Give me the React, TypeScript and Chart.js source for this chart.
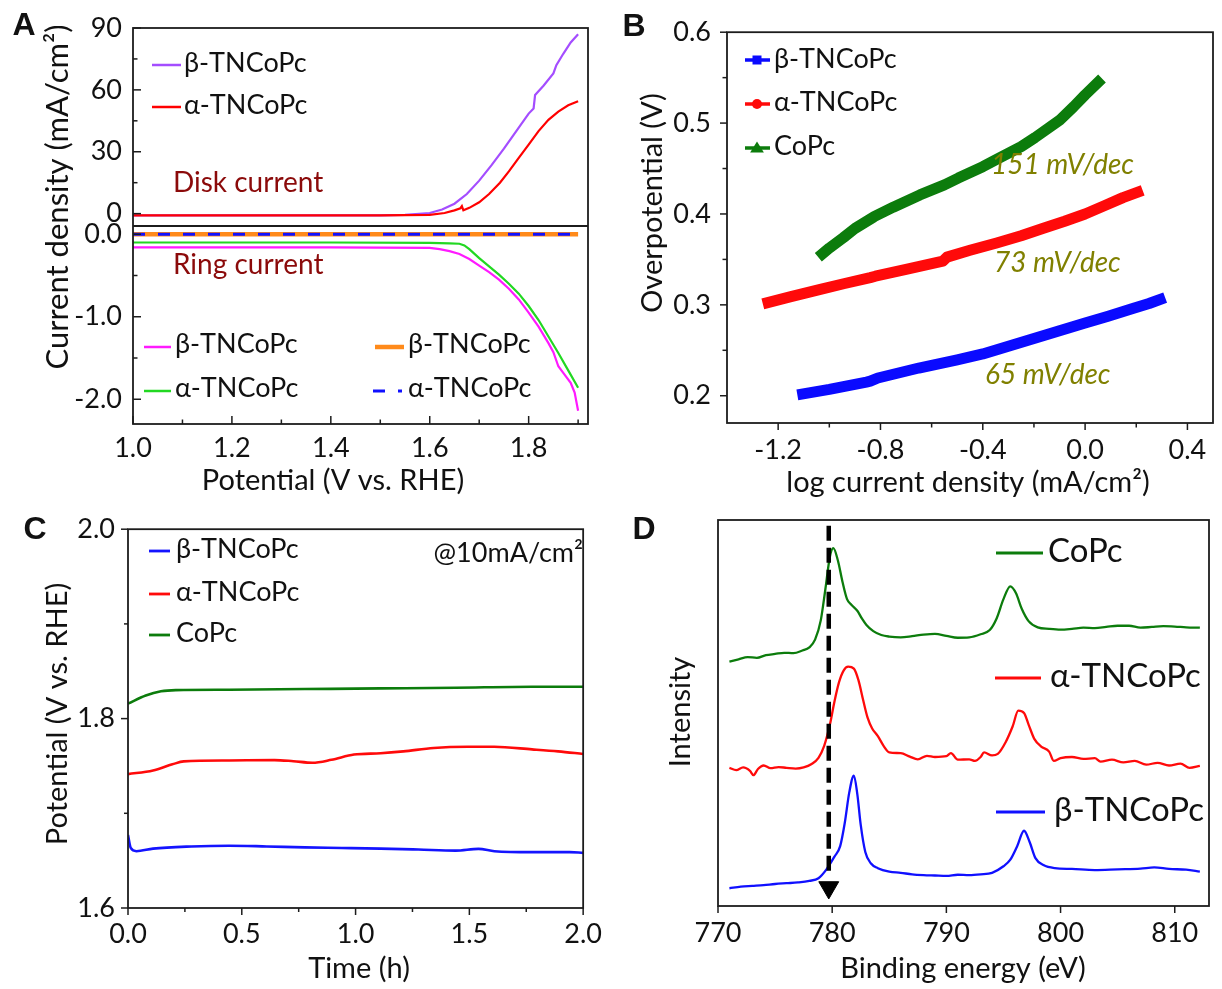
import React, { useEffect, useRef } from 'react';
import { Chart, registerables } from 'chart.js';

Chart.register(...registerables);

const FONT = 'Lato, "Open Sans", "DejaVu Sans", sans-serif';
const LETTER_FONT = '"Liberation Sans", Arial, sans-serif';

// ---------------- Panel A : RRDE (disk / ring currents) ----------------
const aDiskPotBeta = [1.0, 1.2, 1.4, 1.5, 1.55, 1.6, 1.625, 1.65, 1.675, 1.7, 1.725, 1.75, 1.775, 1.8, 1.81, 1.813, 1.83, 1.85, 1.856, 1.87, 1.885, 1.9];
const aDiskCurBeta = [-0.8, -0.8, -0.8, -0.8, -0.6, 0.3, 2.0, 4.8, 9.5, 16.0, 23.5, 31.5, 40.0, 48.5, 51.0, 57.5, 62.0, 68.0, 72.0, 77.5, 83.0, 87.0];
const aDiskPotAlpha = [1.0, 1.2, 1.4, 1.5, 1.6, 1.63, 1.65, 1.662, 1.665, 1.668, 1.68, 1.7, 1.72, 1.742, 1.76, 1.78, 1.8, 1.82, 1.84, 1.86, 1.88, 1.9];
const aDiskCurAlpha = [-0.8, -0.8, -0.8, -0.8, -0.6, 0.3, 1.6, 2.6, 3.6, 1.6, 2.8, 5.5, 9.5, 15.0, 20.5, 27.0, 33.5, 40.0, 45.5, 49.5, 52.5, 54.5];
const aRingPotBeta = [1.0, 1.2, 1.4, 1.6, 1.62, 1.64, 1.66, 1.68, 1.7, 1.72, 1.74, 1.76, 1.78, 1.8, 1.82, 1.84, 1.85, 1.86, 1.87, 1.885, 1.893, 1.9];
const aRingCurBeta = [-0.16, -0.16, -0.16, -0.165, -0.18, -0.205, -0.24, -0.3, -0.38, -0.46, -0.55, -0.66, -0.79, -0.95, -1.12, -1.32, -1.43, -1.6, -1.68, -1.8, -1.92, -2.14];
const aRingPotAlpha = [1.0, 1.2, 1.4, 1.6, 1.64, 1.66, 1.67, 1.68, 1.7, 1.72, 1.74, 1.76, 1.78, 1.8, 1.82, 1.84, 1.86, 1.88, 1.9];
const aRingCurAlpha = [-0.1, -0.1, -0.1, -0.105, -0.11, -0.115, -0.135, -0.18, -0.29, -0.39, -0.49, -0.6, -0.72, -0.87, -1.04, -1.24, -1.44, -1.65, -1.86];
const aRingPotRef = [1.0, 1.9];
const aRingCurBetaRef = [0.0, 0.0];
const aRingCurAlphaRef = [0.0, 0.0];
const aPotTicks = [1.0, 1.2, 1.4, 1.6, 1.8];
const aPotMinor = [1.1, 1.3, 1.5, 1.7, 1.9];
const aDiskTicks = [0, 30, 60, 90];
const aDiskMinor = [15, 45, 75];
const aRingTicks = [-2, -1, 0];
const aRingMinor = [-1.5, -0.5];

// ---------------- Panel B : Tafel ----------------
const bLogBeta = [-1.125, -1.0, -0.855, -0.84, -0.81, -0.65, -0.5, -0.4, -0.3, -0.2, -0.1, 0.0, 0.09, 0.18, 0.25, 0.313];
const bEtaBeta = [0.201, 0.207, 0.215, 0.216, 0.2195, 0.2305, 0.2395, 0.246, 0.2545, 0.263, 0.2715, 0.280, 0.2875, 0.2955, 0.3015, 0.308];
const bLogAlpha = [-1.26, -1.15, -1.035, -0.94, -0.84, -0.82, -0.7, -0.556, -0.54, -0.45, -0.346, -0.25, -0.166, -0.08, 0.0, 0.075, 0.148, 0.225];
const bEtaAlpha = [0.301, 0.309, 0.317, 0.3235, 0.3300, 0.3315, 0.339, 0.348, 0.3525, 0.3600, 0.368, 0.376, 0.384, 0.392, 0.400, 0.409, 0.418, 0.426];
const bLogCoPc = [-1.043, -1.0, -0.945, -0.9, -0.825, -0.75, -0.646, -0.55, -0.496, -0.4, -0.346, -0.25, -0.196, -0.1, -0.045, 0.0, 0.066];
const bEtaCoPc = [0.3525, 0.3625, 0.3740, 0.3840, 0.3970, 0.4075, 0.4210, 0.4320, 0.4395, 0.4520, 0.4600, 0.4740, 0.4840, 0.5030, 0.5180, 0.5310, 0.5490];
const bLogTicks = [-1.2, -0.8, -0.4, 0.0, 0.4];
const bLogMinor = [-1.0, -0.6, -0.2, 0.2];
const bEtaTicks = [0.2, 0.3, 0.4, 0.5, 0.6];
const bEtaMinor = [0.25, 0.35, 0.45, 0.55];

// ---------------- Panel C : chronopotentiometry ----------------
const cTimeBeta = [0, 0.012, 0.037, 0.11, 0.278, 0.444, 0.61, 0.777, 0.94, 1.11, 1.276, 1.44, 1.54, 1.61, 1.775, 1.94, 2.0];
const cPotBeta = [1.677, 1.6634, 1.660, 1.6627, 1.665, 1.6658, 1.665, 1.664, 1.6634, 1.6627, 1.6617, 1.6606, 1.6624, 1.660, 1.659, 1.659, 1.6582];
const cTimeAlpha = [0, 0.11, 0.195, 0.245, 0.444, 0.644, 0.727, 0.81, 0.894, 0.993, 1.11, 1.21, 1.343, 1.493, 1.609, 1.775, 1.89, 2.0];
const cPotAlpha = [1.7414, 1.7452, 1.7517, 1.7548, 1.7558, 1.7562, 1.7550, 1.7534, 1.7565, 1.762, 1.7634, 1.7654, 1.769, 1.7702, 1.7702, 1.7675, 1.7654, 1.7627];
const cTimeCoPc = [0, 0.078, 0.145, 0.21, 0.444, 0.777, 1.11, 1.44, 1.775, 2.0];
const cPotCoPc = [1.8158, 1.8243, 1.8288, 1.8301, 1.8305, 1.8312, 1.8319, 1.8326, 1.8336, 1.8336];
const cTimeTicks = [0, 0.5, 1.0, 1.5, 2.0];
const cTimeMinor = [0.25, 0.75, 1.25, 1.75];
const cPotTicks = [1.6, 1.8, 2.0];
const cPotMinor = [1.7, 1.9];

// ---------------- Panel D : Co 2p XPS ----------------
const dEnergyCoPc = [771.0, 771.8, 772.6, 773.4, 774.2, 775.0, 775.8, 776.6, 777.4, 778.0, 778.5, 779.0, 779.4, 779.8, 780.1, 780.5, 780.9, 781.3, 781.7, 782.2, 782.6, 783.0, 783.6, 784.3, 785.0, 786.0, 787.0, 788.0, 789.0, 790.0, 791.0, 792.0, 793.0, 793.8, 794.4, 795.0, 795.6, 796.1, 796.6, 797.2, 798.0, 799.0, 800.0, 801.0, 802.0, 803.0, 804.0, 805.0, 806.0, 807.0, 808.0, 809.0, 810.0, 811.0, 812.2];
const dIntCoPc = [63.3, 63.9, 64.5, 64.3, 65.0, 65.3, 65.6, 65.5, 66.2, 67.0, 69.0, 74.0, 82.0, 90.5, 92.7, 89.5, 84.0, 79.5, 78.0, 76.5, 74.5, 72.8, 71.2, 70.2, 69.8, 69.6, 69.9, 70.3, 70.5, 70.0, 69.5, 69.6, 70.4, 71.5, 74.5, 79.5, 82.8, 81.0, 77.0, 73.8, 72.2, 71.8, 71.6, 71.8, 72.1, 72.0, 72.3, 72.6, 72.6, 72.1, 72.3, 72.5, 72.4, 72.2, 72.1];
const dEnergyAlpha = [771.0, 771.6, 772.2, 772.8, 773.1, 773.5, 774.0, 774.6, 775.3, 776.0, 776.8, 777.5, 778.2, 778.8, 779.3, 779.8, 780.2, 780.6, 781.0, 781.4, 781.9, 782.3, 782.7, 783.1, 783.5, 784.0, 784.5, 785.0, 786.0, 786.8, 787.5, 788.3, 789.0, 790.0, 790.4, 791.0, 792.0, 792.5, 793.0, 793.3, 794.0, 794.5, 795.2, 795.8, 796.3, 796.8, 797.2, 797.7, 798.3, 799.0, 799.4, 800.0, 801.0, 802.0, 803.0, 803.5, 804.5, 805.5, 806.5, 807.5, 808.5, 809.5, 810.5, 811.3, 812.2];
const dIntAlpha = [35.8, 35.2, 35.9, 35.0, 33.9, 35.5, 36.4, 35.7, 36.0, 35.8, 35.6, 35.9, 36.8, 38.4, 41.5, 47.0, 53.0, 58.0, 61.0, 62.0, 61.5, 58.5, 53.5, 48.8, 46.0, 44.0, 41.5, 39.8, 39.6, 38.7, 38.0, 38.9, 38.6, 38.8, 39.6, 37.9, 38.0, 37.6, 38.6, 39.8, 39.0, 39.4, 42.5, 46.5, 50.6, 50.0, 47.0, 43.3, 41.3, 40.0, 37.6, 38.3, 38.6, 38.1, 38.3, 37.4, 37.9, 37.2, 37.6, 36.6, 37.1, 36.4, 36.9, 35.8, 36.3];
const dEnergyBeta = [771.0, 772.0, 773.0, 774.0, 775.0, 776.0, 777.0, 778.0, 778.8, 779.5, 780.2, 780.7, 781.1, 781.5, 781.9, 782.2, 782.5, 782.9, 783.4, 784.0, 785.0, 786.0, 787.0, 788.0, 789.0, 790.0, 791.0, 792.0, 793.0, 794.0, 795.0, 795.6, 796.2, 796.8, 797.3, 797.8, 798.5, 799.5, 801.0, 803.0, 805.0, 807.0, 808.2, 809.5, 811.0, 812.2];
const dIntBeta = [4.6, 5.0, 5.2, 5.4, 5.7, 5.9, 6.1, 6.5, 7.2, 9.5, 12.8, 15.5, 21.5, 29.5, 33.8, 29.0, 21.0, 14.0, 11.0, 9.8, 8.9, 8.6, 8.2, 8.0, 7.9, 7.8, 8.1, 8.0, 8.2, 8.6, 10.3, 12.0, 15.5, 19.5, 16.5, 12.4, 10.6, 9.8, 9.6, 9.3, 9.5, 9.7, 10.0, 9.6, 9.4, 8.9];
const dMarkerEnergy = [779.7, 779.7];
const dMarkerInt = [98.5, 7.5];
const dArrowEnergy = [779.7];
const dArrowInt = [4.8];
const dEnergyTicks = [770, 780, 790, 800, 810];

// ---------------- helpers ----------------
const pts = (xs: number[], ys: number[]) => xs.map((x, i) => ({ x, y: ys[i] }));

type Rect = { x: number; y: number; w: number; h: number };
type Area = { L: number; T: number; R: number; B: number };

function frame(r: Rect, a: Area) {
  return {
    padding: { left: 0, top: a.T - r.y, right: r.x + r.w - a.R, bottom: 0 },
    yw: a.L - r.x,
    xh: r.y + r.h - a.B,
  };
}

function axis(min: number, max: number, ticks: number[], fmt: (v: number) => string, pad: number, fit: (s: any) => void, extra: any = {}) {
  return {
    type: 'linear',
    min,
    max,
    grid: { display: false, drawTicks: false },
    border: { display: false },
    title: { display: false },
    ticks: {
      font: { family: FONT, size: 27 },
      color: '#111',
      padding: pad,
      autoSkip: false,
      maxRotation: 0,
      minRotation: 0,
      callback: (v: any) => fmt(Number(v)),
    },
    afterBuildTicks: (s: any) => {
      s.ticks = ticks.map((value) => ({ value }));
    },
    afterFit: fit,
    ...extra,
  };
}

function drawMarker(ctx: CanvasRenderingContext2D, style: string, x: number, y: number, r: number, color: string) {
  ctx.fillStyle = color;
  ctx.beginPath();
  if (style === 'rect') ctx.rect(x - r, y - r, 2 * r, 2 * r);
  else if (style === 'circle') ctx.arc(x, y, r, 0, Math.PI * 2);
  else {
    ctx.moveTo(x, y - r * 1.1);
    ctx.lineTo(x + r * 1.15, y + r * 0.75);
    ctx.lineTo(x - r * 1.15, y + r * 0.75);
    ctx.closePath();
  }
  ctx.fill();
}

const decor = {
  id: 'decor',
  afterDraw(chart: any, _args: any, o: any) {
    const ctx = chart.ctx as CanvasRenderingContext2D;
    const ca = chart.chartArea;
    const ox = o.ox || 0;
    const oy = o.oy || 0;
    ctx.save();
    ctx.setLineDash([]);
    ctx.strokeStyle = '#1c1c1c';
    ctx.lineWidth = 1.8;
    ctx.strokeRect(ca.left, ca.top, ca.right - ca.left, ca.bottom - ca.top);
    if (o.separator) {
      const s = chart.scales[o.separator];
      ctx.beginPath();
      ctx.moveTo(ca.left, s.bottom);
      ctx.lineTo(ca.right, s.bottom);
      ctx.stroke();
    }
    ctx.lineWidth = 1.5;
    const dir = o.tickDir === 'in' ? -1 : 1;
    const majLen = o.majorLen || 8;
    const minLen = o.minorLen || 5;
    for (const tm of o.tickMarks || []) {
      const s = chart.scales[tm.id];
      const horiz = s.isHorizontal();
      const mark = (v: number, len: number) => {
        const p = s.getPixelForValue(v);
        ctx.beginPath();
        if (horiz) {
          ctx.moveTo(p, ca.bottom);
          ctx.lineTo(p, ca.bottom + dir * len);
        } else {
          ctx.moveTo(ca.left, p);
          ctx.lineTo(ca.left - dir * len, p);
        }
        ctx.stroke();
      };
      (tm.major || []).forEach((v: number) => mark(v, majLen));
      (tm.minor || []).forEach((v: number) => mark(v, minLen));
    }
    for (const t of o.texts || []) {
      ctx.save();
      ctx.font = `${t.style || 'normal'} ${t.weight || 'normal'} ${t.size || 27}px ${t.family || FONT}`;
      ctx.fillStyle = t.color || '#111';
      ctx.textAlign = t.align || 'left';
      ctx.textBaseline = 'middle';
      ctx.translate(t.x - ox, t.y - oy);
      if (t.rot) ctx.rotate((t.rot * Math.PI) / 180);
      ctx.fillText(t.t, 0, 0);
      ctx.restore();
    }
    for (const l of o.legend || []) {
      const ds = chart.data.datasets[l.ds];
      ctx.save();
      ctx.strokeStyle = ds.borderColor;
      ctx.lineWidth = l.lw ?? ds.borderWidth;
      ctx.setLineDash(ds.borderDash || []);
      ctx.beginPath();
      ctx.moveTo(l.x1 - ox, l.y - oy);
      ctx.lineTo(l.x2 - ox, l.y - oy);
      ctx.stroke();
      ctx.setLineDash([]);
      if (l.marker) drawMarker(ctx, l.marker, l.mx - ox, l.y - oy, l.mr, ds.borderColor);
      ctx.font = `${l.size || 27}px ${FONT}`;
      ctx.fillStyle = '#111';
      ctx.textAlign = 'left';
      ctx.textBaseline = 'middle';
      ctx.fillText(ds.label, l.tx - ox, l.ty - oy);
      ctx.restore();
    }
    ctx.restore();
  },
};

const baseOptions = (padding: any) => ({
  responsive: false,
  animation: false,
  events: [],
  layout: { padding },
  elements: { point: { radius: 0 } },
});

const LETTER = { size: 32, weight: 'bold', family: LETTER_FONT, align: 'center' };

// ---------------- panel configs ----------------
const rectA: Rect = { x: 0, y: 0, w: 612, h: 500 };
const areaA: Area = { L: 133, T: 28, R: 588, B: 424 };
const rectB: Rect = { x: 612, y: 0, w: 610, h: 500 };
const areaB: Area = { L: 727, T: 24, R: 1213, B: 423 };
const rectC: Rect = { x: 0, y: 500, w: 612, h: 489 };
const areaC: Area = { L: 128, T: 519, R: 590, B: 908 };
const rectD: Rect = { x: 612, y: 500, w: 610, h: 489 };
const areaD: Area = { L: 718, T: 520, R: 1209, B: 906 };

function configA() {
  const f = frame(rectA, areaA);
  const fy = (s: any) => { s.width = f.yw; };
  const fx = (s: any) => { s.height = f.xh; };
  return {
    type: 'line',
    data: {
      datasets: [
        { label: 'β-TNCoPc', data: pts(aDiskPotBeta, aDiskCurBeta), borderColor: '#a44dff', borderWidth: 2.2, yAxisID: 'yTop', order: 2 },
        { label: 'α-TNCoPc', data: pts(aDiskPotAlpha, aDiskCurAlpha), borderColor: '#ff0000', borderWidth: 2.2, yAxisID: 'yTop', order: 1 },
        { label: 'β-TNCoPc', data: pts(aRingPotBeta, aRingCurBeta), borderColor: '#ff1aff', borderWidth: 2.2, yAxisID: 'yBot', order: 2 },
        { label: 'α-TNCoPc', data: pts(aRingPotAlpha, aRingCurAlpha), borderColor: '#22d822', borderWidth: 2.2, yAxisID: 'yBot', order: 2 },
        { label: 'β-TNCoPc', data: pts(aRingPotRef, aRingCurBetaRef), borderColor: '#ff8a1a', borderWidth: 4.5, yAxisID: 'yBot', order: 1 },
        { label: 'α-TNCoPc', data: pts(aRingPotRef, aRingCurAlphaRef), borderColor: '#1010ff', borderWidth: 3, borderDash: [12, 13], yAxisID: 'yBot', order: 0 },
      ],
    },
    options: {
      ...baseOptions(f.padding),
      scales: {
        x: axis(1.0, 1.92, aPotTicks, (v) => v.toFixed(1), 8, fx, { position: 'bottom' }),
        yBot: axis(-2.3, 0.1, aRingTicks, (v) => v.toFixed(1), 11, fy, { position: 'left', stack: 'A', stackWeight: 1 }),
        yTop: axis(-6, 90, aDiskTicks, (v) => String(v), 11, fy, { position: 'left', stack: 'A', stackWeight: 1 }),
      },
      plugins: {
        legend: { display: false },
        tooltip: { enabled: false },
        decor: {
          ox: rectA.x,
          oy: rectA.y,
          separator: 'yTop',
          tickDir: 'in',
          majorLen: 8,
          minorLen: 4.5,
          tickMarks: [
            { id: 'x', major: aPotTicks, minor: aPotMinor },
            { id: 'yTop', major: aDiskTicks, minor: aDiskMinor },
            { id: 'yBot', major: aRingTicks, minor: aRingMinor },
          ],
          texts: [
            { t: 'A', x: 24, y: 26, ...LETTER },
            { t: 'Current density (mA/cm²)', x: 58, y: 197, size: 31, rot: -90, align: 'center' },
            { t: 'Potential (V vs. RHE)', x: 333, y: 481, size: 29, align: 'center' },
            { t: 'Disk current', x: 173, y: 183, size: 28, color: '#8b0a0a' },
            { t: 'Ring current', x: 173, y: 265, size: 28, color: '#8b0a0a' },
          ],
          legend: [
            { ds: 0, x1: 152, x2: 181, y: 65, tx: 184, ty: 63, lw: 2.5 },
            { ds: 1, x1: 152, x2: 181, y: 107, tx: 184, ty: 105, lw: 2.5 },
            { ds: 2, x1: 144, x2: 171, y: 347, tx: 175, ty: 344, lw: 2.5 },
            { ds: 3, x1: 144, x2: 171, y: 391, tx: 175, ty: 388, lw: 2.5 },
            { ds: 4, x1: 375, x2: 404, y: 347, tx: 408, ty: 344 },
            { ds: 5, x1: 373, x2: 402, y: 391, tx: 408, ty: 388 },
          ],
        },
      },
    },
    plugins: [decor],
  };
}

function configB() {
  const f = frame(rectB, areaB);
  const fy = (s: any) => { s.width = f.yw; };
  const fx = (s: any) => { s.height = f.xh; };
  const band = { borderWidth: 11, borderJoinStyle: 'round', borderCapStyle: 'butt' };
  return {
    type: 'line',
    data: {
      datasets: [
        { label: 'β-TNCoPc', data: pts(bLogBeta, bEtaBeta), borderColor: '#0a0aff', ...band },
        { label: 'α-TNCoPc', data: pts(bLogAlpha, bEtaAlpha), borderColor: '#ff0a0a', ...band },
        { label: 'CoPc', data: pts(bLogCoPc, bEtaCoPc), borderColor: '#0c7c0c', ...band },
      ],
    },
    options: {
      ...baseOptions(f.padding),
      scales: {
        x: axis(-1.4, 0.5, bLogTicks, (v) => v.toFixed(1), 11, fx, { position: 'bottom' }),
        y: axis(0.17, 0.6, bEtaTicks, (v) => v.toFixed(1), 16, fy, { position: 'left' }),
      },
      plugins: {
        legend: { display: false },
        tooltip: { enabled: false },
        decor: {
          ox: rectB.x,
          oy: rectB.y,
          tickDir: 'out',
          majorLen: 7,
          minorLen: 4.5,
          tickMarks: [
            { id: 'x', major: bLogTicks, minor: bLogMinor },
            { id: 'y', major: bEtaTicks, minor: bEtaMinor },
          ],
          texts: [
            { t: 'B', x: 634, y: 27, ...LETTER },
            { t: 'Overpotential (V)', x: 653, y: 203, size: 29, rot: -90, align: 'center' },
            { t: 'log current density (mA/cm²)', x: 968, y: 483, size: 29, align: 'center' },
            { t: '151 mV/dec', x: 991, y: 165, size: 28, style: 'italic', color: '#808000' },
            { t: '73 mV/dec', x: 994, y: 263, size: 28, style: 'italic', color: '#808000' },
            { t: '65 mV/dec', x: 985, y: 375, size: 28, style: 'italic', color: '#808000' },
          ],
          legend: [
            { ds: 0, x1: 745, x2: 770, y: 60, tx: 774, ty: 59, lw: 3.5, marker: 'rect', mx: 757, mr: 4.5 },
            { ds: 1, x1: 745, x2: 770, y: 104, tx: 774, ty: 102, lw: 3.5, marker: 'circle', mx: 757, mr: 5 },
            { ds: 2, x1: 745, x2: 770, y: 148, tx: 774, ty: 146, lw: 3.5, marker: 'triangle', mx: 757, mr: 6 },
          ],
        },
      },
    },
    plugins: [decor],
  };
}

function configC() {
  const f = frame(rectC, areaC);
  const fy = (s: any) => { s.width = f.yw; };
  const fx = (s: any) => { s.height = f.xh; };
  const ln = { borderWidth: 2.6, cubicInterpolationMode: 'monotone' };
  return {
    type: 'line',
    data: {
      datasets: [
        { label: 'β-TNCoPc', data: pts(cTimeBeta, cPotBeta), borderColor: '#1414ff', ...ln },
        { label: 'α-TNCoPc', data: pts(cTimeAlpha, cPotAlpha), borderColor: '#ff0a0a', ...ln },
        { label: 'CoPc', data: pts(cTimeCoPc, cPotCoPc), borderColor: '#0c7c0c', ...ln },
      ],
    },
    options: {
      ...baseOptions(f.padding),
      scales: {
        x: axis(0, 2, cTimeTicks, (v) => v.toFixed(1), 10, fx, { position: 'bottom' }),
        y: axis(1.6, 2.0, cPotTicks, (v) => v.toFixed(1), 13, fy, { position: 'left' }),
      },
      plugins: {
        legend: { display: false },
        tooltip: { enabled: false },
        decor: {
          ox: rectC.x,
          oy: rectC.y,
          tickDir: 'out',
          majorLen: 7,
          minorLen: 4,
          tickMarks: [
            { id: 'x', major: cTimeTicks, minor: cTimeMinor },
            { id: 'y', major: cPotTicks, minor: cPotMinor },
          ],
          texts: [
            { t: 'C', x: 35, y: 530, ...LETTER },
            { t: 'Potential (V vs. RHE)', x: 58, y: 714, size: 29, rot: -90, align: 'center' },
            { t: 'Time (h)', x: 359, y: 969, size: 29, align: 'center' },
            { t: '@10mA/cm²', x: 583, y: 553, size: 27, align: 'right' },
          ],
          legend: [
            { ds: 0, x1: 149, x2: 170, y: 551, tx: 176, ty: 549, lw: 2.8 },
            { ds: 1, x1: 149, x2: 170, y: 594, tx: 176, ty: 592, lw: 2.8 },
            { ds: 2, x1: 149, x2: 170, y: 635, tx: 176, ty: 633, lw: 2.8 },
          ],
        },
      },
    },
    plugins: [decor],
  };
}

function configD() {
  const f = frame(rectD, areaD);
  const fy = (s: any) => { s.width = f.yw; };
  const fx = (s: any) => { s.height = f.xh; };
  const ln = { borderWidth: 2.3, cubicInterpolationMode: 'monotone', order: 1 };
  return {
    type: 'line',
    data: {
      datasets: [
        { label: 'CoPc', data: pts(dEnergyCoPc, dIntCoPc), borderColor: '#0c7c0c', ...ln },
        { label: 'α-TNCoPc', data: pts(dEnergyAlpha, dIntAlpha), borderColor: '#ff0a0a', ...ln },
        { label: 'β-TNCoPc', data: pts(dEnergyBeta, dIntBeta), borderColor: '#1010ff', ...ln },
        { label: 'marker', data: pts(dMarkerEnergy, dMarkerInt), borderColor: '#000', borderWidth: 4.5, borderDash: [15, 7], order: 0 },
        {
          label: 'arrow',
          data: pts(dArrowEnergy, dArrowInt),
          showLine: false,
          pointStyle: 'triangle',
          pointRotation: 180,
          pointRadius: 11.5,
          pointBackgroundColor: '#000',
          pointBorderColor: '#000',
          borderColor: '#000',
          order: 0,
        },
      ],
    },
    options: {
      ...baseOptions(f.padding),
      scales: {
        x: axis(770, 813, dEnergyTicks, (v) => String(v), 11, fx, { position: 'bottom' }),
        y: {
          type: 'linear',
          position: 'left',
          min: 0,
          max: 100,
          grid: { display: false, drawTicks: false },
          border: { display: false },
          ticks: { display: false },
          afterFit: fy,
        },
      },
      plugins: {
        legend: { display: false },
        tooltip: { enabled: false },
        decor: {
          ox: rectD.x,
          oy: rectD.y,
          tickDir: 'out',
          majorLen: 7,
          minorLen: 4,
          tickMarks: [{ id: 'x', major: dEnergyTicks, minor: [] }],
          texts: [
            { t: 'D', x: 644, y: 530, ...LETTER },
            { t: 'Intensity', x: 681, y: 712, size: 29, rot: -90, align: 'center' },
            { t: 'Binding energy (eV)', x: 963, y: 969, size: 29, align: 'center' },
          ],
          legend: [
            { ds: 0, x1: 996, x2: 1043, y: 553, tx: 1048, ty: 551, lw: 2.8, size: 33 },
            { ds: 1, x1: 995, x2: 1041, y: 678, tx: 1050, ty: 676, lw: 2.8, size: 33 },
            { ds: 2, x1: 996, x2: 1045, y: 812, tx: 1054, ty: 810, lw: 2.8, size: 33 },
          ],
        },
      },
    },
    plugins: [decor],
  };
}

function ChartPanel({ rect, make }: { rect: Rect; make: () => any }) {
  const ref = useRef<HTMLCanvasElement>(null);
  useEffect(() => {
    const chart = new Chart(ref.current as HTMLCanvasElement, make());
    let alive = true;
    const fonts = (document as any).fonts;
    if (fonts && fonts.ready) {
      fonts.ready.then(() => {
        if (alive) chart.update('none');
      });
    }
    return () => {
      alive = false;
      chart.destroy();
    };
  }, []);
  return (
    <canvas
      ref={ref}
      width={rect.w}
      height={rect.h}
      style={{ position: 'absolute', left: rect.x, top: rect.y, width: rect.w, height: rect.h }}
    />
  );
}

export default function App() {
  return (
    <div style={{ position: 'absolute', left: 0, top: 0, width: 1222, height: 989, background: '#fff', overflow: 'hidden' }}>
      <ChartPanel rect={rectA} make={configA} />
      <ChartPanel rect={rectB} make={configB} />
      <ChartPanel rect={rectC} make={configC} />
      <ChartPanel rect={rectD} make={configD} />
    </div>
  );
}
